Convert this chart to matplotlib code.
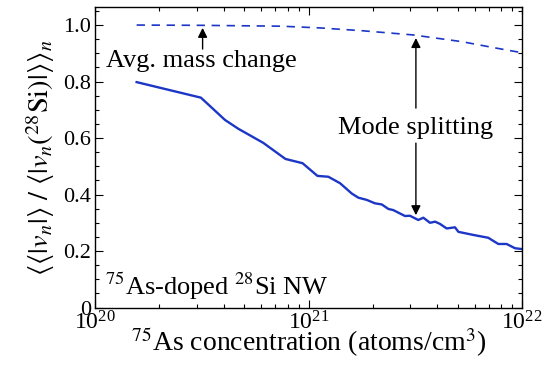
import numpy as np
import matplotlib
matplotlib.use("Agg")
import matplotlib.pyplot as plt
from matplotlib.ticker import FixedLocator, MultipleLocator, FixedFormatter

plt.rcParams['font.family'] = ['Liberation Serif', 'DejaVu Serif']
plt.rcParams['mathtext.fontset'] = 'stix'

# log10 of the 75As concentration (atoms/cm^3)
mode_logx = [20.195, 20.496, 20.609, 20.671, 20.788, 20.892, 20.972, 21.042,
             21.093, 21.148, 21.202, 21.233, 21.273, 21.311, 21.343, 21.374,
             21.397, 21.452, 21.475, 21.514, 21.538, 21.569, 21.593, 21.616,
             21.647, 21.686, 21.702, 21.772, 21.842, 21.889, 21.928, 21.967,
             22.0]
mode_ratio = [0.798, 0.743, 0.664, 0.633, 0.583, 0.526, 0.511, 0.466,
              0.463, 0.440, 0.404, 0.389, 0.381, 0.369, 0.365, 0.349,
              0.345, 0.324, 0.325, 0.310, 0.318, 0.300, 0.304, 0.296,
              0.280, 0.284, 0.268, 0.257, 0.247, 0.225, 0.225, 0.210,
              0.207]

mass_logx = [20.195, 20.5, 20.87, 21.05, 21.25, 21.49, 21.72, 21.86, 22.0]
mass_ratio = [1.0, 0.999, 0.996, 0.990, 0.980, 0.965, 0.941, 0.921, 0.902]

ytick_vals = [0, 0.2, 0.4, 0.6, 0.8, 1.0]
ytick_labels = ['0', '0.2', '0.4', '0.6', '0.8', '1.0']

blue = '#1c36c6'

fig = plt.figure(figsize=(5.51, 3.67), dpi=100)
ax = fig.add_axes([0.1724, 0.162, 0.775, 0.819])

ax.plot(10 ** np.array(mode_logx), mode_ratio, color=blue, lw=1.7)
ax.plot(10 ** np.array(mass_logx), mass_ratio, color=blue, lw=1.2,
        dashes=(5, 4))

ax.set_xscale('log')
ax.set_xlim(1e20, 1e22)
ax.set_ylim(0, 1.064)
ax.yaxis.set_major_locator(FixedLocator(ytick_vals))
ax.yaxis.set_major_formatter(FixedFormatter(ytick_labels))
ax.yaxis.set_minor_locator(MultipleLocator(0.05))

ax.tick_params(which='both', direction='in', top=True, right=True,
               width=0.8)
ax.tick_params(axis='y', labelsize=16, pad=3)
ax.tick_params(axis='x', labelsize=17, pad=3)
ax.tick_params(which='major', length=6)
ax.tick_params(which='minor', length=3)
for s in ax.spines.values():
    s.set_linewidth(1.0)

ax.set_xlabel(r'$^{75}$As concentration (atoms/cm$^3$)', fontsize=20,
              labelpad=-7)
ax.set_ylabel(r'$\langle\langle|v_n|\rangle\ /\ '
              r'\langle|v_n(^{28}\mathrm{Si})|\rangle\rangle_n$',
              fontsize=20.5, labelpad=4)

arrow = dict(arrowstyle='-|>', color='black', lw=1.0,
             mutation_scale=14, shrinkA=0, shrinkB=0)

ax.annotate('', xy=(10 ** 20.504, 0.99), xytext=(10 ** 20.504, 0.915),
            arrowprops=arrow)
ax.text(10 ** 20.052, 0.852, 'Avg. mass change', fontsize=19,
        ha='left', va='baseline')

ax.annotate('', xy=(10 ** 21.503, 0.954), xytext=(10 ** 21.503, 0.706),
            arrowprops=arrow)
ax.annotate('', xy=(10 ** 21.503, 0.327), xytext=(10 ** 21.503, 0.582),
            arrowprops=arrow)
ax.text(10 ** 21.5, 0.616, 'Mode splitting', fontsize=19,
        ha='center', va='baseline')

ax.text(10 ** 20.047, 0.044, r'$^{75}$As-doped $^{28}$Si NW', fontsize=19,
        ha='left', va='baseline')

fig.savefig('out.png', dpi=100)
